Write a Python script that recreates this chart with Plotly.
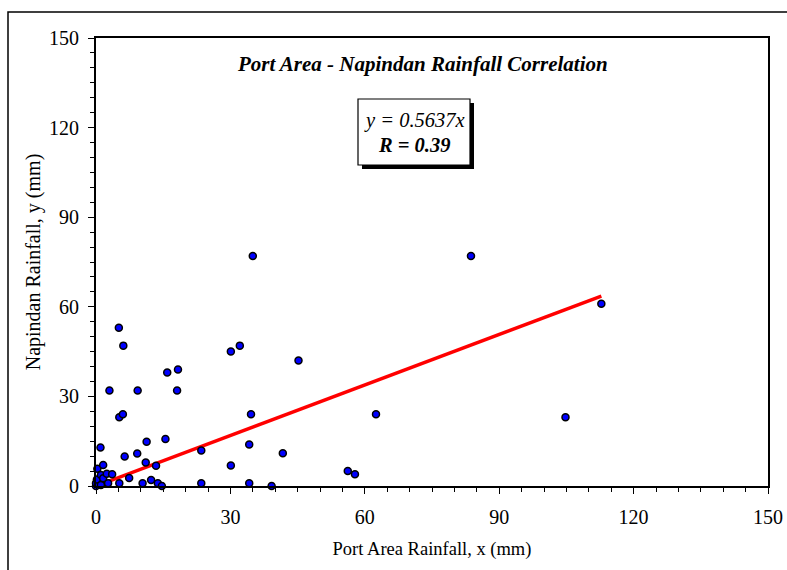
import plotly.graph_objects as go

# Daily rainfall pairs (mm): Port Area gauge vs Napindan gauge
port_area = [0.0, 0.0, 0.2, 0.3, 1.0, 1.1, 1.1, 1.6, 1.6, 2.4, 2.7, 3.0, 3.6,
             5.2, 5.2, 6.0, 5.1, 6.1, 6.4, 7.4, 9.2, 9.3, 10.4, 11.1, 11.3,
             12.3, 13.4, 13.8, 14.7, 15.5, 15.9, 18.1, 18.3, 23.5, 23.5,
             30.1, 32.1, 30.1, 34.2, 34.6, 34.2, 35.0, 39.2, 41.7, 45.2,
             56.2, 57.8, 62.5, 83.7, 104.8, 112.8]
napindan = [0.0, 0.9, 2.2, 5.8, 12.9, 0.3, 3.7, 2.6, 7.0, 4.1, 0.9, 32.0, 3.9,
            0.9, 23.0, 24.0, 53.0, 47.0, 9.9, 2.7, 10.9, 32.0, 0.9, 7.9, 14.8,
            2.0, 6.8, 0.9, 0.0, 15.7, 38.0, 32.0, 39.0, 11.9, 0.9,
            45.0, 47.0, 6.9, 13.9, 24.0, 0.9, 77.0, 0.0, 11.0, 42.0,
            5.0, 3.9, 24.0, 77.0, 23.0, 61.0]

slope = 0.5637
r_value = 0.39
fit_x = [0.0, max(port_area)]
fit_y = [slope * v for v in fit_x]

axis_ticks = [0, 30, 60, 90, 120, 150]

serif = "Liberation Serif"

fig = go.Figure()
fig.add_trace(go.Scatter(
    x=fit_x, y=fit_y, mode="lines",
    line=dict(color="#ff0000", width=3.5),
    hoverinfo="skip", showlegend=False,
))
fig.add_trace(go.Scatter(
    x=port_area, y=napindan, mode="markers",
    marker=dict(size=7, color="#0000ff", line=dict(color="#000000", width=1.5)),
    showlegend=False, cliponaxis=False,
))

axis_common = dict(
    range=[0, 150], tickvals=axis_ticks, ticks="outside", ticklen=6,
    tickwidth=1.2, tickcolor="#000000", showline=True, linecolor="#000000",
    linewidth=2, mirror=True, showgrid=False, zeroline=False, automargin=False,
    tickfont=dict(family=serif, size=20, color="#000000"),
    minor=dict(dtick=5, ticks="outside", ticklen=4, tickwidth=1.2,
               tickcolor="#000000", showgrid=False),
)

fig.update_xaxes(**axis_common, ticklabelstandoff=6,
                 title=dict(text="Port Area Rainfall, x (mm)", standoff=15,
                            font=dict(family=serif, size=18.5, color="#000000")))
fig.update_yaxes(**axis_common, ticklabelstandoff=5,
                 title=dict(text="Napindan Rainfall, y (mm)", standoff=3,
                            font=dict(family=serif, size=20, color="#000000")))

# plot-area pixel geometry used to place paper-referenced shapes
L, R, T, B = 96, 19, 38, 84
W, H = 787, 570
pw, ph = W - L - R, H - T - B


def px_x(p):
    return (p - L) / pw


def px_y(p):
    return (H - B - p) / ph


shapes = [
    # outer chart border
    dict(type="rect", xref="paper", yref="paper",
         x0=px_x(8), x1=px_x(792), y0=px_y(575), y1=px_y(12),
         line=dict(color="#000000", width=1.5), fillcolor="rgba(0,0,0,0)",
         layer="below"),
    # shadow of the equation box
    dict(type="rect", xref="paper", yref="paper",
         x0=px_x(362), x1=px_x(474), y0=px_y(169), y1=px_y(103),
         line=dict(width=0), fillcolor="#000000"),
    # equation box
    dict(type="rect", xref="paper", yref="paper",
         x0=px_x(358), x1=px_x(470), y0=px_y(165), y1=px_y(99),
         line=dict(color="#000000", width=1.2), fillcolor="#ffffff"),
]

text_font = dict(family=serif, color="#000000")
annotations = [
    dict(text="<b><i>Port Area - Napindan Rainfall Correlation</i></b>",
         xref="paper", yref="paper", x=px_x(422), y=px_y(64),
         xanchor="center", yanchor="middle", showarrow=False,
         font=dict(**text_font, size=21)),
    dict(text=f"<i>y = {slope}x</i>",
         xref="paper", yref="paper", x=px_x(414), y=px_y(120),
         xanchor="center", yanchor="middle", showarrow=False,
         font=dict(**text_font, size=20.5)),
    dict(text=f"<b><i>R = {r_value}</i></b>",
         xref="paper", yref="paper", x=px_x(414), y=px_y(145),
         xanchor="center", yanchor="middle", showarrow=False,
         font=dict(**text_font, size=20.5)),
]

fig.update_layout(
    width=W, height=H,
    margin=dict(l=L, r=R, t=T, b=B),
    paper_bgcolor="#ffffff", plot_bgcolor="#ffffff",
    shapes=shapes, annotations=annotations,
    font=dict(family=serif, color="#000000"),
)

fig.write_html("out.html")
